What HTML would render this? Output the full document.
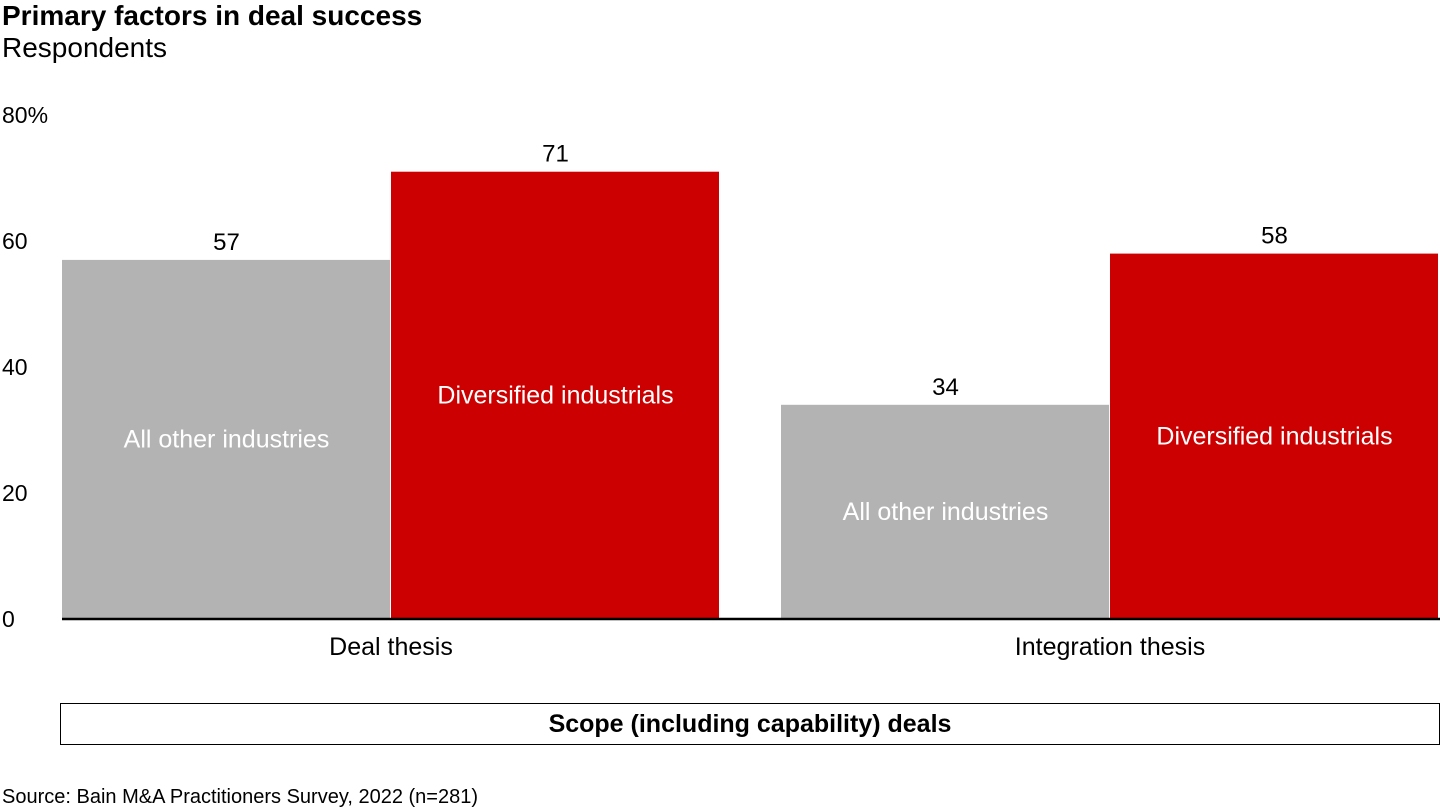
<!DOCTYPE html>
<html><head><meta charset="utf-8"><style>
body{margin:0;width:1440px;height:810px;background:#fff;font-family:"Liberation Sans",Arial,sans-serif;overflow:hidden;position:relative}
.t{position:absolute;white-space:nowrap;color:#000}
</style></head><body>
<div class="t" style="left:2px;top:0px;font-size:28px;font-weight:bold">Primary factors in deal success</div>
<div class="t" style="left:2px;top:32px;font-size:28px">Respondents</div>
<svg id="c" width="1440" height="810" style="position:absolute;left:0;top:0"></svg>
<div style="position:absolute;left:60px;top:703px;width:1378px;height:40px;border:1px solid #000;text-align:center;line-height:40px;font-size:25px;font-weight:bold">Scope (including capability) deals</div>
<div class="t" style="left:2px;top:786px;font-size:20px">Source: Bain M&amp;A Practitioners Survey, 2022 (n=281)</div>
<script>
const categories=["Deal thesis","Integration thesis"];
const seriesNames=["All other industries","Diversified industrials"];
const allOther=[57,34];
const diversified=[71,58];
const ticks=[0,20,40,60,80];
const tickLabels=["0","20","40","60","80%"];
const svg=document.getElementById('c');const NS='http://www.w3.org/2000/svg';
const y0=619,pxPer=6.3;
const y=v=>y0-v*pxPer;
const groupX=[62,781],barW=329;
function el(tag,attrs,text){const e=document.createElementNS(NS,tag);for(const k in attrs)e.setAttribute(k,attrs[k]);if(text!==undefined)e.textContent=text;svg.appendChild(e);return e;}
ticks.forEach((t,i)=>{const e=el('text',{x:2,y:y(t)+8,'font-size':23,'font-family':'Liberation Sans,sans-serif'},tickLabels[i]);

});
const series=[allOther,diversified],colors=['#b3b3b3','#cc0000'];
categories.forEach((c,ci)=>{
 series.forEach((s,si)=>{
  const x=groupX[ci]+si*barW;const v=s[ci];
  const r=el('rect',{x:x,y:y(v),width:barW-1,height:y0-y(v),fill:colors[si]});
  
  
  const vl=el('text',{x:x+barW/2,y:y(v)-10,'text-anchor':'middle','font-size':24,'font-family':'Liberation Sans,sans-serif'},String(v));
  
  
  const il=el('text',{x:x+barW/2,y:(y(v)+y0)/2+8,'text-anchor':'middle','font-size':25,fill:'#fff','font-family':'Liberation Sans,sans-serif'},seriesNames[si]);
  
  
 });
 const cl=el('text',{x:groupX[ci]+barW,y:655,'text-anchor':'middle','font-size':25,'font-family':'Liberation Sans,sans-serif'},c);
 
 
});
const ax=el('line',{x1:62,x2:1440,y1:y0,y2:y0,stroke:'#000','stroke-width':2.5});


</script>
</body></html>
